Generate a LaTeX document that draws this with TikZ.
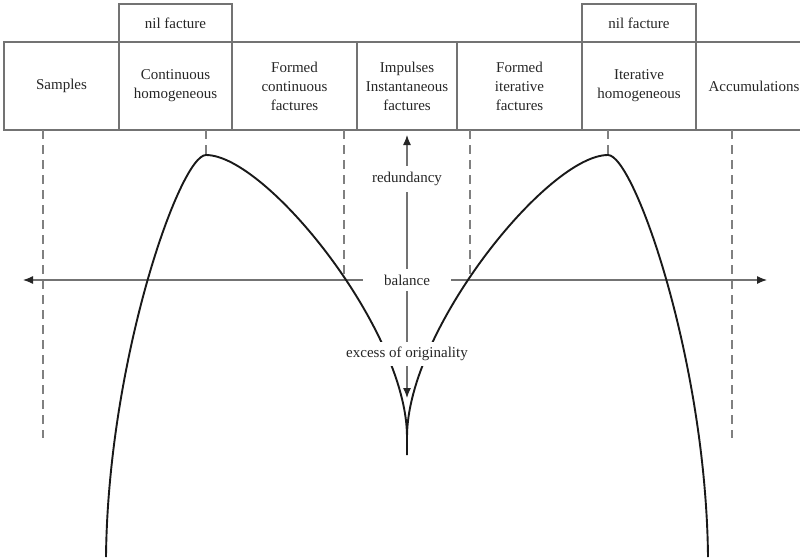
\documentclass[tikz,border=0pt]{standalone}
\usepackage{fontspec}
\setmainfont{Liberation Serif}
\usetikzlibrary{positioning,arrows.meta}
\tikzset{
  cell/.style={draw=black!55, line width=1.2pt, outer sep=0pt, minimum height=88pt,
    align=center, text=black!85, font=\fontsize{15}{19}\selectfont},
  guide/.style={draw=black!50, line width=1.2pt, dash pattern=on 9pt off 6pt},
  axis/.style={draw=black!55, line width=1.2pt, >={Latex[length=10pt,width=8pt,color=black!85]}, <->},
  arch/.style={draw=black!90, line width=1.9pt},
  tag/.style={fill=white, inner xsep=3pt, inner ysep=6pt, text=black!85, font=\fontsize{15}{19}\selectfont}
}
\begin{document}
\begin{tikzpicture}[x=1pt,y=-1pt]
  \useasboundingbox (0,0) rectangle (800,557);
  \node [cell, minimum width=115pt] (samples) at (61.5,86) {Samples};
  \node [cell, minimum width=113pt, right=0pt of samples] (conthom) {Continuous\\homogeneous};
  \node [cell, minimum width=125pt, right=0pt of conthom] (formcont) {Formed\\continuous\\factures};
  \node [cell, minimum width=100pt, right=0pt of formcont] (impulses) {Impulses\\Instantaneous\\factures};
  \node [cell, minimum width=125pt, right=0pt of impulses] (formiter) {Formed\\iterative\\factures};
  \node [cell, minimum width=114pt, right=0pt of formiter] (iterhom) {Iterative\\homogeneous};
  \node [cell, minimum width=116pt, right=0pt of iterhom] (accum) {Accumulations};
  \node [cell, minimum width=113pt, minimum height=38pt, above=0pt of conthom] (nilleft) {nil facture};
  \node [cell, minimum width=114pt, minimum height=38pt, above=0pt of iterhom] (nilright) {nil facture};

  \foreach \x/\y in {43/438, 206/155, 344/280, 470/280, 608/155, 732/438}
    \draw [guide] (\x,130) -- (\x,\y);

  \coordinate (west) at (23,280);
  \coordinate (east) at (767,280);
  \coordinate (up) at (407,135);
  \coordinate (down) at (407,398);
  \draw [axis] (west) -- (east);
  \draw [axis] (down) -- (up);

  \draw [arch] (106,557) .. controls (108,360) and (180,155) .. (206,155)
    .. controls (266,155) and (407,330) .. (407,437) -- (407,455);
  \draw [arch] (708,557) .. controls (706,360) and (634,155) .. (608,155)
    .. controls (548,155) and (407,330) .. (407,437);

  \node [tag] (redund) at (407,179) {redundancy};
  \node [tag, inner xsep=21pt] (balance) at (407,280) {balance};
  \node [tag, inner ysep=5pt] (excess) at (407,354) {excess of originality};
\end{tikzpicture}
\end{document}
